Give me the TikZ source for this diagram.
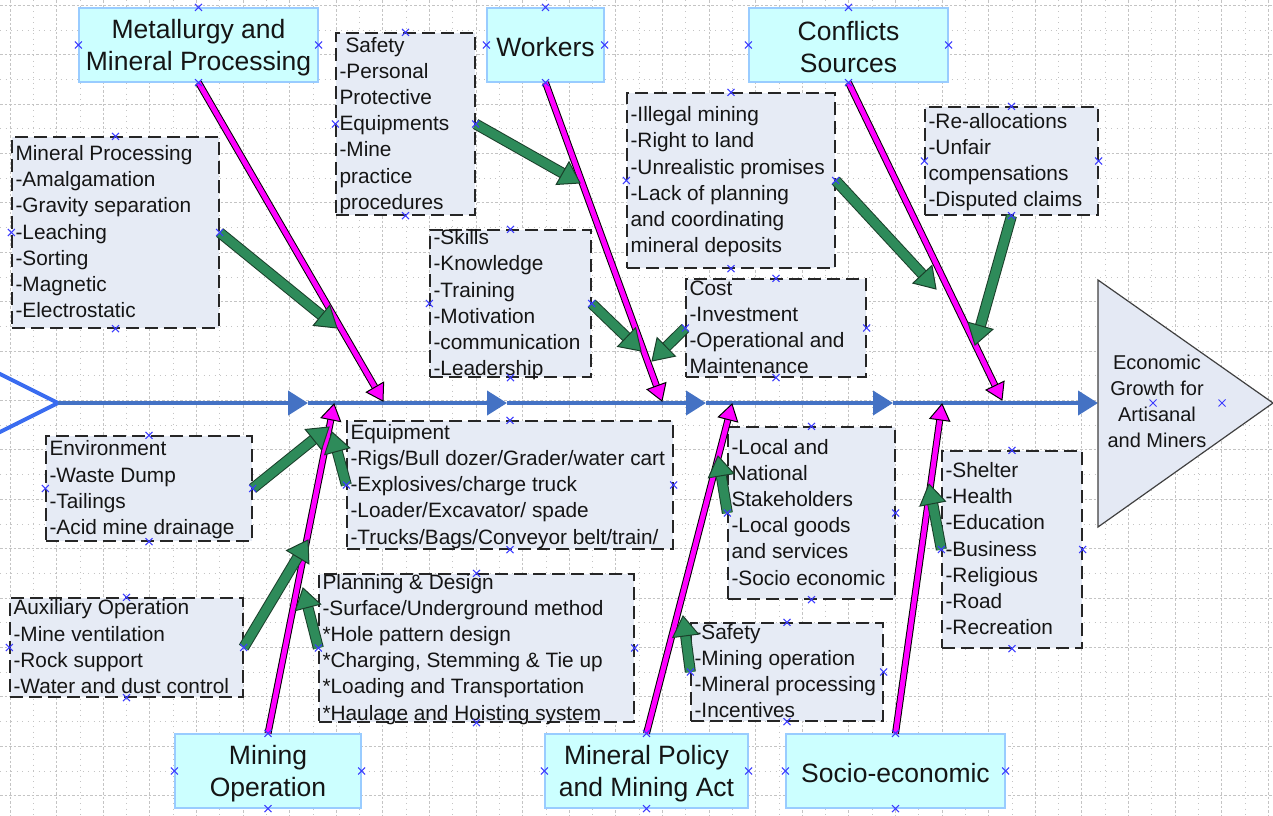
\documentclass[tikz,border=0pt]{standalone}
\usepackage{fontspec}
\setmainfont{Liberation Sans}
\usetikzlibrary{calc,arrows.meta}
\definecolor{axisblue}{HTML}{4472C4}
\definecolor{chevblue}{HTML}{3A6CF0}
\definecolor{mag}{HTML}{FF00FF}
\definecolor{ggreen}{HTML}{2E8B5A}
\definecolor{gdark}{HTML}{1A3F2A}
\definecolor{tfill}{HTML}{CCFFFF}
\definecolor{tborder}{HTML}{99CCFF}
\definecolor{dfill}{HTML}{E6EBF5}
\definecolor{hfill}{HTML}{E4E9F4}
\definecolor{txt}{HTML}{151515}
\definecolor{gridc}{HTML}{C4C4C4}
\definecolor{mkc}{HTML}{3C3CFF}
\newcommand\bfs{\fontsize{20.8}{26.2}\selectfont}
\newcommand\tfs{\fontsize{26.5}{32}\selectfont}
\newcommand\hfs{\fontsize{20}{26}\selectfont}
\newcommand\marrow[2]{%
  \draw[line width=7pt, draw=black, shorten >=15pt] (#1) -- (#2);
  \draw[line width=5pt, draw=mag, shorten >=14pt] (#1) -- (#2);
  \coordinate (fb) at ($(#2)!16pt!(#1)$);
  \draw[draw=black, fill=mag, line width=1pt, line join=miter] (#2) -- ($(fb)!10pt!90:(#2)$) -- ($(fb)!10pt!-90:(#2)$) -- cycle;}
\newcommand\garrow[2]{%
  \draw[line width=11pt, draw=gdark, shorten >=19pt] (#1) -- (#2);
  \draw[line width=9pt, draw=ggreen, shorten >=18pt] (#1) -- (#2);
  \coordinate (fb) at ($(#2)!20pt!(#1)$);
  \draw[draw=gdark, fill=ggreen, line width=1pt, line join=miter] (#2) -- ($(fb)!13pt!90:(#2)$) -- ($(fb)!13pt!-90:(#2)$) -- cycle;}
\newcommand\mk[1]{\draw[mkc, line width=1pt] ($(#1)+(-3.5,-3.5)$) -- ++(7,7) ($(#1)+(-3.5,3.5)$) -- ++(7,-7);}
\begin{document}
\begin{tikzpicture}[x=1pt,y=-1pt,
  dbox/.style={draw=black!85, fill=dfill, line width=1.3pt, dash pattern=on 13pt off 6pt, inner sep=0pt},
  tbox/.style={draw=tborder, fill=tfill, line width=1.2pt, inner sep=0pt},
  ttext/.style={align=center, font=\tfs, text=txt, yshift=-2.5pt},
  btext/.style={anchor=west, align=left, inner xsep=4pt, inner ysep=0pt, font=\bfs, text=txt, yshift=-3pt,
    execute at begin node=\strut, execute at end node=\strut},
  axisline/.style={draw=axisblue, line width=4pt, -{Triangle[length=20pt,width=24pt]}},
  gmajor/.style={draw=gridc, line width=0.8pt, dash pattern=on 2.5pt off 2pt},
  gminor/.style={draw=gridc, line width=0.8pt, dash pattern=on 1pt off 4.5pt}]
\useasboundingbox (0,0) rectangle (1273,815);
\fill[white] (0,0) rectangle (1273,815);
\begin{scope}
\clip (0,0) rectangle (1273,815);
% grid
\foreach \i in {0,...,27} {
  \draw[gmajor] ({10+46.6*\i},0) -- ({10+46.6*\i},815);
  \draw[gminor] ({33.3+46.6*\i},0) -- ({33.3+46.6*\i},815);
}
\foreach \j in {0,...,16} {
  \draw[gmajor] (0,{5.2+49.4*\j}) -- (1273,{5.2+49.4*\j});
  \draw[gminor] (0,{29.9+49.4*\j}) -- (1273,{29.9+49.4*\j});
}
% title boxes
\node[tbox, minimum width=239pt, minimum height=74pt] (T1) at (198.5,45) {};
\node[tbox, minimum width=117pt, minimum height=74pt] (T2) at (545.5,45) {};
\node[tbox, minimum width=199pt, minimum height=74pt] (T3) at (848.5,45) {};
\node[tbox, minimum width=186pt, minimum height=74pt] (T4) at (268,771) {};
\node[tbox, minimum width=203pt, minimum height=74pt] (T5) at (646.5,771) {};
\node[tbox, minimum width=219pt, minimum height=74pt] (T6) at (895.5,771) {};
\node[ttext] (tT1) at (T1.center) {Metallurgy and\\Mineral Processing};
\node[ttext] (tT2) at (T2.center) {Workers};
\node[ttext] (tT3) at (T3.center) {Conflicts\\Sources};
\node[ttext] (tT4) at (T4.center) {Mining\\Operation};
\node[ttext] (tT5) at (T5.center) {Mineral Policy\\and Mining Act};
\node[ttext] (tT6) at (T6.center) {Socio-economic};
% dashed boxes
\node[dbox, minimum width=207pt, minimum height=191pt] (A) at (115.5,232.5) {};
\node[dbox, minimum width=139pt, minimum height=182pt] (B) at (405.5,124) {};
\node[dbox, minimum width=161pt, minimum height=147pt] (C) at (510.5,303.5) {};
\node[dbox, minimum width=208pt, minimum height=175pt] (D) at (731,180.5) {};
\node[dbox, minimum width=180pt, minimum height=98pt] (E) at (776,328) {};
\node[dbox, minimum width=173pt, minimum height=108pt] (F) at (1011.5,161) {};
\node[dbox, minimum width=206pt, minimum height=105pt] (G) at (149,488.5) {};
\node[dbox, minimum width=326pt, minimum height=128pt] (H) at (510,485) {};
\node[dbox, minimum width=233pt, minimum height=99pt] (I) at (126.5,647.5) {};
\node[dbox, minimum width=315pt, minimum height=148pt] (J) at (476.5,648) {};
\node[dbox, minimum width=167pt, minimum height=172pt] (K) at (811.5,513) {};
\node[dbox, minimum width=192pt, minimum height=98pt] (L) at (787,672) {};
\node[dbox, minimum width=140pt, minimum height=197pt] (M) at (1012,549.5) {};
% box texts
\node[btext] (tA) at (A.west) {Mineral Processing\\-Amalgamation\\-Gravity separation\\-Leaching\\-Sorting\\-Magnetic\\-Electrostatic};
\node[btext] (tB) at (B.west) {\hspace*{6pt}Safety\\-Personal\\Protective\\Equipments\\-Mine\\practice\\procedures};
\node[btext] (tC) at (C.west) {-Skills\\-Knowledge\\-Training\\-Motivation\\-communication\\-Leadership};
\node[btext] (tD) at (D.west) {-Illegal mining\\-Right to land\\-Unrealistic promises\\-Lack of planning\\and coordinating\\mineral deposits};
\node[btext] (tE) at (E.west) {Cost\\-Investment\\-Operational and\\Maintenance};
\node[btext] (tF) at (F.west) {-Re-allocations\\-Unfair\\compensations\\-Disputed claims};
\node[btext] (tG) at (G.west) {Environment\\-Waste Dump\\-Tailings\\-Acid mine drainage};
\node[btext] (tH) at (H.west) {Equipment\\-Rigs/Bull dozer/Grader/water cart\\-Explosives/charge truck\\-Loader/Excavator/ spade\\-Trucks/Bags/Conveyor belt/train/};
\node[btext] (tI) at (I.west) {Auxiliary Operation\\-Mine ventilation\\-Rock support\\-Water and dust control};
\node[btext] (tJ) at (J.west) {Planning \& Design\\-Surface/Underground method\\*Hole pattern design\\*Charging, Stemming \& Tie up\\*Loading and Transportation\\*Haulage and Hoisting system};
\node[btext] (tK) at (K.west) {-Local and\\National\\Stakeholders\\-Local goods\\and services\\-Socio economic};
\node[btext] (tL) at (L.west) {-Safety\\-Mining operation\\-Mineral processing\\-Incentives};
\node[btext] (tM) at (M.west) {-Shelter\\-Health\\-Education\\-Business\\-Religious\\-Road\\-Recreation};
% axis
\coordinate (chT) at (-6,371);
\coordinate (chB) at (-6,435);
\coordinate (ax0) at (58,403);
\coordinate (ax1) at (308,403);
\coordinate (ax2) at (507,403);
\coordinate (ax3) at (706,403);
\coordinate (ax4) at (893,403);
\coordinate (ax5) at (1098,403);
\draw[chevblue, line width=4pt, line join=miter] (chT) -- (ax0) -- (chB);
\draw[axisline] (ax0) -- (ax1);
\draw[axisline] (ax1) -- (ax2);
\draw[axisline] (ax2) -- (ax3);
\draw[axisline] (ax3) -- (ax4);
\draw[axisline] (ax4) -- (ax5);
% head
\coordinate (hT) at (1098,280);
\coordinate (hA) at (1273,403);
\coordinate (hB) at (1098,527);
\draw[draw=black!75, fill=hfill, line width=1.2pt] (hT) -- (hA) -- (hB) -- cycle;
\node[align=center, font=\hfs, text=txt] (head) at (1157,401) {Economic\\Growth for\\Artisanal\\and Miners};
% magenta bones
\coordinate (m1) at (383,401);
\coordinate (m2) at (662,401);
\coordinate (m3) at (1002,400);
\coordinate (m4) at (334,404);
\coordinate (m5) at (732,404);
\coordinate (m6) at (942,404);
\marrow{T1.south}{m1}
\marrow{T2.south}{m2}
\marrow{T3.south}{m3}
\marrow{T4.north}{m4}
\marrow{T5.north}{m5}
\marrow{T6.north}{m6}
% green arrows
\coordinate (g1) at (337,328);
\coordinate (g2) at (580,183);
\coordinate (g3) at (641,351);
\coordinate (g4) at (652,361);
\coordinate (g5) at (936,289);
\coordinate (g6) at (975,345);
\coordinate (g7) at (329,427);
\coordinate (g8) at (332,432);
\coordinate (g9) at (308,540);
\coordinate (g10) at (303,588);
\coordinate (g11) at (718,456);
\coordinate (g12) at (683,616);
\coordinate (g13) at (929,484);
\garrow{A.east}{g1}
\garrow{B.east}{g2}
\garrow{C.east}{g3}
\garrow{E.west}{g4}
\garrow{D.east}{g5}
\garrow{F.south}{g6}
\garrow{G.east}{g7}
\garrow{H.west}{g8}
\garrow{I.east}{g9}
\garrow{J.west}{g10}
\garrow{K.west}{g11}
\garrow{L.west}{g12}
\garrow{M.west}{g13}
% connection markers
\foreach \n in {A,B,C,D,E,F,G,H,I,J,K,L,M,T1,T2,T3,T4,T5,T6} {
  \foreach \a in {north,south,east,west} {\mk{\n.\a}}
}
\coordinate (hm1) at (1153,403);
\coordinate (hm2) at (1222,403);
\mk{hm1}
\mk{hm2}
\end{scope}
\end{tikzpicture}
\end{document}
